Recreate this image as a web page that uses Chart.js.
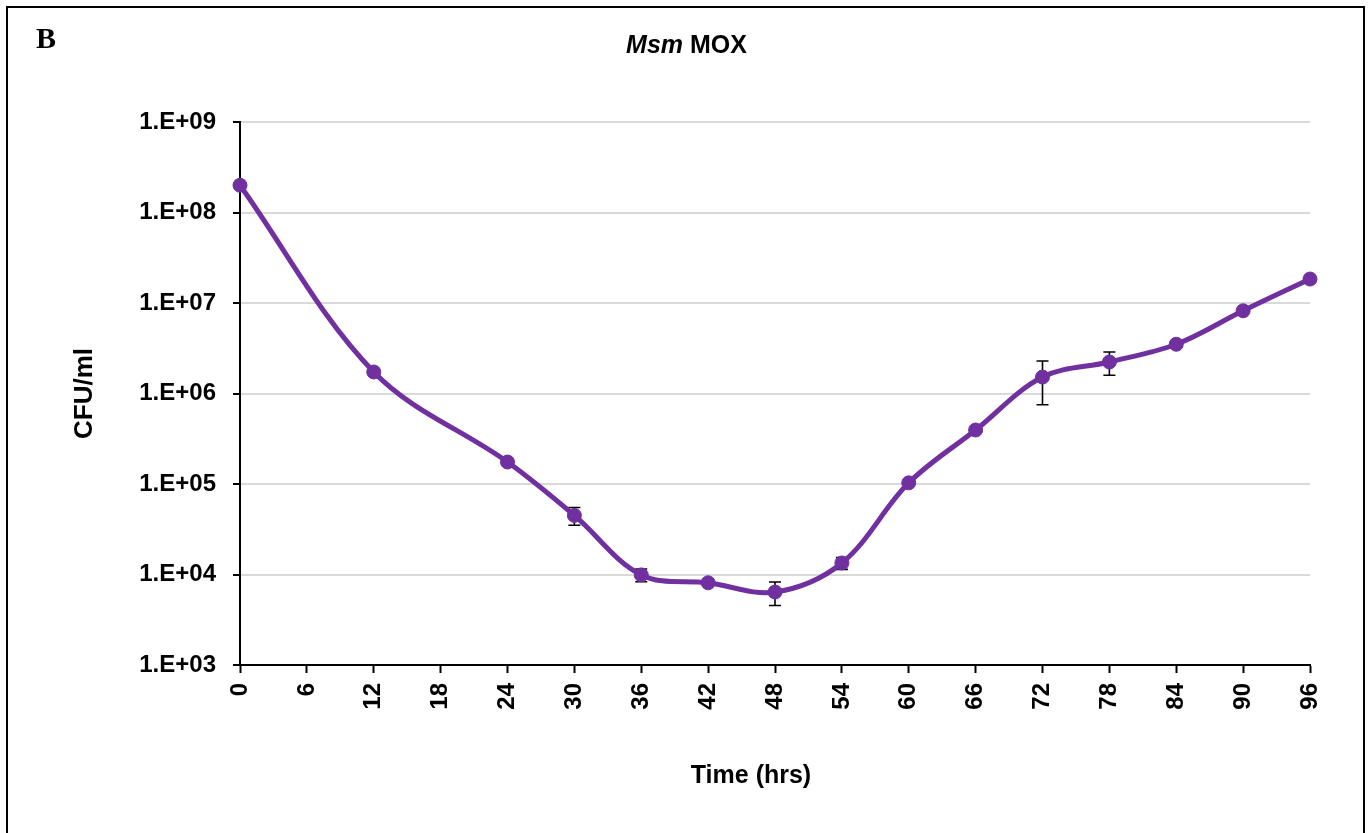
<!DOCTYPE html>
<html>
<head>
<meta charset="utf-8">
<title>Msm MOX</title>
<script src="https://cdn.jsdelivr.net/npm/chart.js@4/dist/chart.umd.min.js"></script>
<style>
  html, body { margin: 0; padding: 0; background: #fff; overflow: hidden; }
  #wrap { position: relative; width: 1372px; height: 833px; overflow: hidden; }
  #frame { position: absolute; left: 6px; top: 6px; width: 1359px; height: 900px;
           border: 2px solid #000; box-sizing: border-box; pointer-events: none; }
  #plot { position: absolute; left: 0; top: 0; }
</style>
</head>
<body>
<div id="wrap">
  <canvas id="plot" width="1372" height="833"></canvas>
  <div id="frame"></div>
</div>
<script>
// Sampling times (hours)
const hours = [0, 12, 24, 30, 36, 42, 48, 54, 60, 66, 72, 78, 84, 90, 96];
// Viable count, CFU/ml
const cfu = [2.0e8, 1.73e6, 1.75e5, 4.5e4, 9.9e3, 8.1e3, 6.4e3, 1.34e4, 1.03e5, 3.95e5, 1.52e6, 2.23e6, 3.5e6, 8.2e6, 1.84e7];
// Standard deviation (null where no bar is drawn)
const cfuErr = [null, null, null, 1.0e4, 1.6e3, null, 1.85e3, 2.0e3, null, null, 7.7e5, 6.4e5, null, null, null];
// Axis ticks
const yTickValues = [1e3, 1e4, 1e5, 1e6, 1e7, 1e8, 1e9];
const xMin = 0, xMax = 96, xStep = 6;

const SANS = '"Liberation Sans", Arial, sans-serif';
const SERIF = '"Liberation Serif", "Times New Roman", serif';
const PURPLE = '#7030A0';

function sciLabel(v) {
  const e = Math.round(Math.log10(v));
  return '1.E+' + String(e).padStart(2, '0');
}

// Vertical error bars with caps, drawn beneath the line and markers
const errorBars = {
  id: 'errorBars',
  beforeDatasetsDraw(chart) {
    const { ctx, scales: { x, y } } = chart;
    ctx.save();
    ctx.strokeStyle = '#000';
    ctx.lineWidth = 1.6;
    const cap = 6;
    hours.forEach((h, i) => {
      const e = cfuErr[i];
      if (e == null) return;
      const px = x.getPixelForValue(h);
      const top = y.getPixelForValue(cfu[i] + e);
      const bot = y.getPixelForValue(cfu[i] - e);
      ctx.beginPath();
      ctx.moveTo(px, top); ctx.lineTo(px, bot);
      ctx.moveTo(px - cap, top); ctx.lineTo(px + cap, top);
      ctx.moveTo(px - cap, bot); ctx.lineTo(px + cap, bot);
      ctx.stroke();
    });
    ctx.restore();
  }
};

// Panel letter, chart title (species name in italics) and x-axis title
const captions = {
  id: 'captions',
  afterDraw(chart) {
    const ctx = chart.ctx;
    ctx.save();
    ctx.fillStyle = '#000';
    ctx.textBaseline = 'alphabetic';

    ctx.font = 'bold 30px ' + SERIF;
    ctx.textAlign = 'left';
    ctx.fillText('B', 36, 48);

    const partA = 'Msm ', partB = 'MOX';
    const fontA = 'italic bold 25px ' + SANS;
    const fontB = 'bold 25px ' + SANS;
    ctx.font = fontA; const wA = ctx.measureText(partA).width;
    ctx.font = fontB; const wB = ctx.measureText(partB).width;
    let sx = 686.5 - (wA + wB) / 2;
    ctx.font = fontA; ctx.fillText(partA, sx, 53);
    ctx.font = fontB; ctx.fillText(partB, sx + wA, 53);

    ctx.font = 'bold 25px ' + SANS;
    ctx.textAlign = 'center';
    ctx.fillText('Time (hrs)', 751, 783);
    ctx.restore();
  }
};

new Chart(document.getElementById('plot'), {
  type: 'line',
  data: {
    datasets: [{
      label: 'Msm MOX',
      data: hours.map((h, i) => ({ x: h, y: cfu[i] })),
      borderColor: PURPLE,
      backgroundColor: PURPLE,
      pointBackgroundColor: PURPLE,
      pointBorderColor: PURPLE,
      borderWidth: 5,
      pointRadius: 7,
      pointBorderWidth: 1,
      tension: 0.35,
      clip: false
    }]
  },
  options: {
    responsive: false,
    animation: false,
    layout: { padding: { left: 0, top: 122, right: 62, bottom: 0 } },
    plugins: {
      legend: { display: false },
      title: { display: false },
      tooltip: { enabled: false }
    },
    scales: {
      x: {
        type: 'linear',
        min: xMin,
        max: xMax,
        ticks: {
          stepSize: xStep,
          autoSkip: false,
          minRotation: 90,
          maxRotation: 90,
          padding: 10,
          color: '#000',
          font: { family: SANS, size: 24, weight: 'bold' }
        },
        grid: {
          drawOnChartArea: false,
          drawTicks: true,
          tickLength: 8,
          tickColor: '#000',
          tickWidth: 2
        },
        border: { color: '#000', width: 2 },
        afterFit(scale) { scale.height = 168; }
      },
      y: {
        type: 'logarithmic',
        min: yTickValues[0],
        max: yTickValues[yTickValues.length - 1],
        afterBuildTicks(scale) {
          scale.ticks = yTickValues.map(v => ({ value: v }));
        },
        ticks: {
          autoSkip: false,
          padding: 17,
          color: '#000',
          font: { family: SANS, size: 24, weight: 'bold' },
          callback: v => sciLabel(v)
        },
        grid: {
          color: '#d9d9d9',
          lineWidth: 2,
          tickColor: '#000',
          tickLength: 7,
          tickWidth: 2
        },
        border: { color: '#000', width: 2 },
        title: {
          display: true,
          text: 'CFU/ml',
          color: '#000',
          font: { family: SANS, size: 26, weight: 'bold' },
          padding: { top: 69, bottom: 0 }
        },
        afterFit(scale) { scale.width = 240; }
      }
    }
  },
  plugins: [errorBars, captions]
});
</script>
</body>
</html>
